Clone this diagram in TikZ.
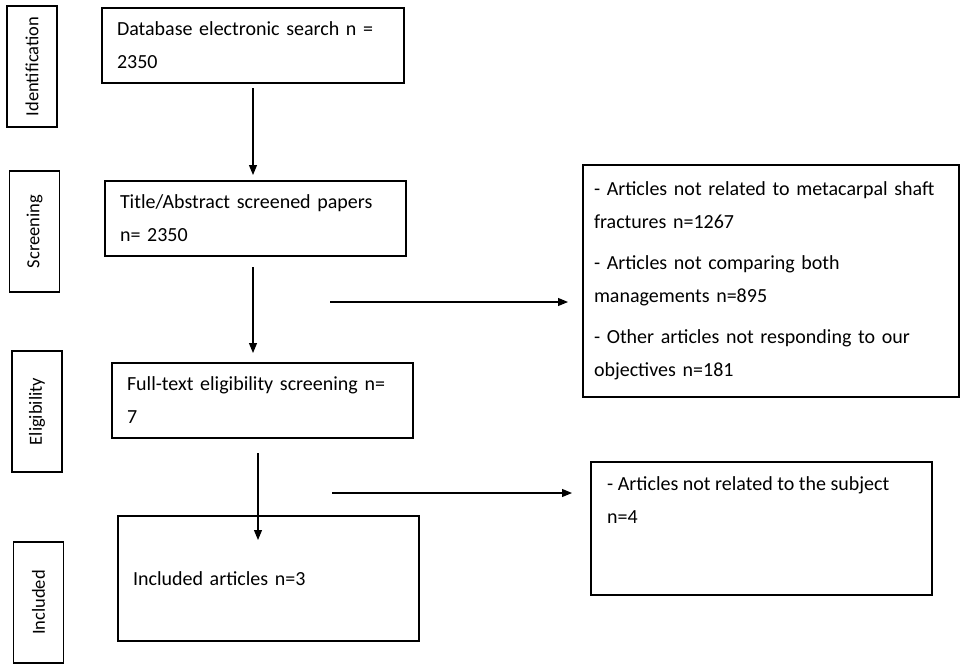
\documentclass[tikz,border=0pt]{standalone}
\usepackage{fontspec}
\setmainfont{Carlito}
\usetikzlibrary{arrows.meta}

\begin{document}
\begin{tikzpicture}[x=1pt,y=-1pt,>={Triangle[length=10pt,width=8pt]},
  every node/.style={font=\fontsize{20}{33}\selectfont},
  stage/.style={draw,line width=1.6pt,rotate=90,minimum width=121pt,minimum height=50pt,inner sep=0pt,outer sep=0pt,font=\fontsize{18.5}{20}\selectfont},
  box/.style={draw,line width=1.6pt,anchor=north west,align=left,inner xsep=15pt,inner ysep=0pt,outer sep=0pt},
  arr/.style={->,line width=1.1pt}]
\useasboundingbox (0,0) rectangle (961,664);
% stages
\node[stage] (sid) at (32,66.5) {Identification};
\node[stage] (sscr) at (34.5,231.5) {Screening};
\node[stage] (selig) at (37,411.5) {Eligibility};
\node[stage] (sinc) at (38.5,602.5) {Included};
% main column
\node[box,text width=272pt,minimum height=75pt] (db) at (102,8) {Database electronic search n =\\2350};
\node[box,text width=271pt,minimum height=75pt] (title) at (105,181) {Title/Abstract screened papers\\n= 2350};
\node[box,text width=271pt,minimum height=75pt] (full) at (112,363) {Full-text eligibility screening n=\\7};
\node[box,text width=271pt,minimum height=125pt] (incl) at (118,516) {Included articles n=3};
% exclusions
\node[box,inner xsep=11pt,text width=354pt,minimum height=232pt] (ex1) at (583,165) {- Articles not related to metacarpal shaft\\fractures n=1267\\[8pt]- Articles not comparing both\\managements n=895\\[8pt]- Other articles not responding to our\\objectives n=181};
\node[box,text width=311pt,minimum height=133pt] (ex2) at (591,462) {};
\node[anchor=north west,inner sep=0pt,align=left] (ex2txt) at (607,476) {- Articles not related to the subject\\n=4};
\coordinate (cut1) at (330,302);
\coordinate (cut2) at (332,493);
\draw[arr,shorten <=5pt,shorten >=6pt] (db.south) -- (db.south |- title.north);
\draw[arr,shorten <=11pt,shorten >=10pt] (title.south -| db.south) -- (full.north -| db.south);
\draw[arr,shorten <=15pt,shorten >=-24pt] ([xshift=-4.5pt]full.south) -- ([xshift=-4.5pt]full.south |- incl.north);
\draw[arr,shorten >=15pt] (cut1) -- (cut1 -| ex1.west);
\draw[arr,shorten >=19pt] (cut2) -- (cut2 -| ex2.west);
\end{tikzpicture}
\end{document}
